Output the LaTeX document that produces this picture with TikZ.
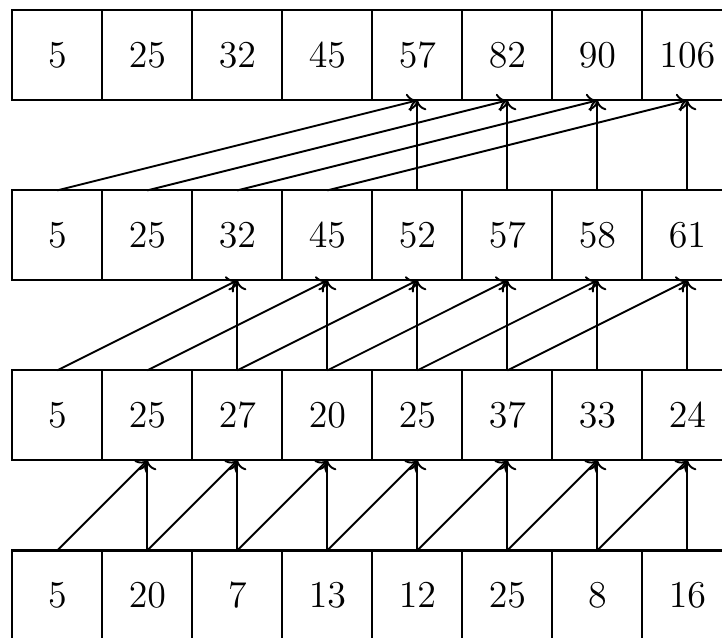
\documentclass[tikz,border=0pt]{standalone}
\usepackage{tikz}
\usetikzlibrary{arrows.meta}

\begin{document}
\begin{tikzpicture}[
        every node/.style={font=\fontsize{11.8}{14}\selectfont},
        cell/.style={rectangle, draw, line width=0.7pt,
          minimum width=1cm, minimum height=1cm, inner sep=0pt, outer sep=0pt},
        arr/.style={-{To[length=1.1mm, width=2mm]}, line width=0.6pt}]
      \useasboundingbox (-0.137,0.115) rectangle (7.885,-6.963);
      % rows, top to bottom
      \foreach \v [count=\i from 0] in {5,25,32,45,57,82,90,106}
        \node[cell] (d\i) at (\i+0.5,-0.5) {$\v$};
      \foreach \v [count=\i from 0] in {5,25,32,45,52,57,58,61}
        \node[cell] (c\i) at (\i+0.5,-2.5) {$\v$};
      \foreach \v [count=\i from 0] in {5,25,27,20,25,37,33,24}
        \node[cell] (b\i) at (\i+0.5,-4.5) {$\v$};
      \foreach \v [count=\i from 0] in {5,20,7,13,12,25,8,16}
        \node[cell] (a\i) at (\i+0.5,-6.5) {$\v$};
      % step 1
      \foreach \i [evaluate=\i as \j using int(\i+1)] in {0,...,6}
        \draw[arr] (a\i.north) -- (b\j.south);
      \foreach \i in {1,...,7}
        \draw[arr] (a\i.north) -- (b\i.south);
      % step 2
      \foreach \i [evaluate=\i as \j using int(\i+2)] in {0,...,5}
        \draw[arr] (b\i.north) -- (c\j.south);
      \foreach \i in {2,...,7}
        \draw[arr] (b\i.north) -- (c\i.south);
      % step 3
      \foreach \i [evaluate=\i as \j using int(\i+4)] in {0,...,3}
        \draw[arr] (c\i.north) -- (d\j.south);
      \foreach \i in {4,...,7}
        \draw[arr] (c\i.north) -- (d\i.south);
    \end{tikzpicture}
\end{document}
